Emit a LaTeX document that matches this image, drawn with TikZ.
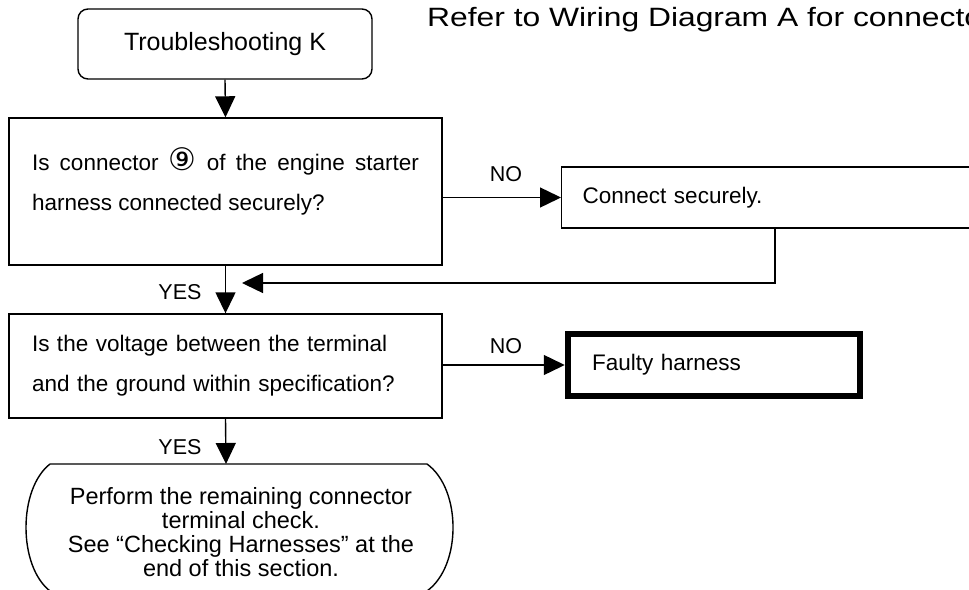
\documentclass[tikz,border=0pt]{standalone}
\usepackage{fontspec}
\setmainfont{Liberation Sans}
\newfontfamily\circfont{DejaVu Sans}
\newfontfamily\widefont[FakeStretch=1.2]{Liberation Sans}
\usetikzlibrary{arrows.meta, positioning, calc}
\tikzset{
	flowline/.style={line width=1.4pt, -{Triangle[length=21pt,width=20pt]}},
	plainline/.style={line width=1.4pt},
	qbox/.style={draw, line width=1.4pt, inner xsep=23pt, text width=387pt,
		font=\fontsize{22.5}{40}\selectfont},
	answer/.style={font=\fontsize{21.5}{24}\selectfont}
}

\begin{document}
\begin{tikzpicture}[x=1pt,y=-1pt]
\useasboundingbox (0,0) rectangle (969,589);

            % start and note
            \node[draw, rounded corners=10pt, line width=1.4pt, minimum width=294pt, minimum height=70pt,
                  font=\fontsize{25}{30}\selectfont] (start) at (225,44) {Troubleshooting K};
            \node[anchor=base west, inner sep=0pt, font=\widefont\fontsize{26.5}{30}\selectfont] (note) at (427,27)
                  {Refer to Wiring Diagram A for connecto};

            % questions
            \node[qbox, minimum height=147pt, align=justify] (q1) at (225.5,191.5)
                  {Is connector {\circfont\fontsize{31}{40}\selectfont ⑨} of the engine starter\linebreak harness connected securely?\rule[-25pt]{0pt}{0pt}};
            \node[qbox, minimum height=104pt, align=left] (q2) at (225.5,366)
                  {Is the voltage between the terminal\\and the ground within specification?};

            % answers
            \node[draw, line width=1.4pt, anchor=west, minimum height=61pt, inner xsep=21pt, text width=388pt,
                  align=left, font=\fontsize{22.5}{26}\selectfont] (fix) at (561,197.5) {Connect securely.};
            \node[draw, line width=6.5pt, minimum height=62pt, inner xsep=24pt, text width=244pt,
                  align=left, font=\fontsize{22.5}{26}\selectfont] (bad) at (714,365) {Faulty harness};

            % end terminal
            \node[align=center, font=\fontsize{23.5}{24}\selectfont] (endtext) at (241,532)
                  {Perform the remaining connector\\terminal check.\\See “Checking Harnesses” at the\\end of this section.};
            \draw[plainline] (50,464) -- (427,464) .. controls (461.7,489) and (461.7,566) .. (427,591)
                  -- (50,591) .. controls (18,566) and (18,489) .. (50,464);
            \coordinate (endtop) at (226,464);
            \coordinate (merge) at (242,283);

            % connectors
            \draw[flowline] (start.south) -- (q1.north);
            \draw[flowline] (q1.east |- fix.west) -- (fix.west);
            \draw[flowline] ([xshift=214pt]fix.south west) |- (merge);
            \draw[flowline] (q1.south) -- (q2.north);
            \draw[flowline] (q2.east |- bad.west) -- (bad.west);
            \draw[flowline] (q2.south) -- (endtop);

 \node[answer] (no1) at (506,174) {NO};
            \node[answer] (yes1) at (180,292) {YES};
            \node[answer] (no2) at (506,346) {NO};
            \node[answer] (yes2) at (180,447) {YES};
        \end{tikzpicture}
\end{document}
